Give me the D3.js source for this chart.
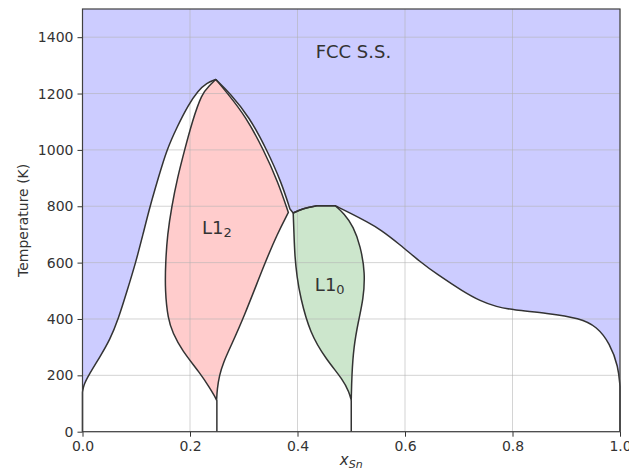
<!DOCTYPE html>
<html>
<head>
<meta charset="utf-8">
<script src="https://cdn.jsdelivr.net/npm/d3@7"></script>
<style>
  body { margin: 0; background: #fff; }
  text { font-family: "DejaVu Sans", sans-serif; fill: #333; }
</style>
</head>
<body>
<div id="chart"></div>
<script>
// phase boundaries, [x_Sn, T(K)]
var fccLeft = [[0,140],[0.002,165],[0.0108,199],[0.0326,266],[0.051,326],[0.0667,400],[0.083,500],
  [0.099,600],[0.1125,700],[0.1256,800],[0.141,900],[0.1566,1000],[0.176,1082],[0.197,1160],
  [0.215,1210],[0.231,1238],[0.248,1250]];
var fccRightUpper = [[0.248,1250],[0.274,1202],[0.31,1118],[0.343,1000],[0.37,885],[0.386,790]];
var fccRightLower = [[0.47,802],[0.5,774],[0.529,745],[0.554,718],[0.59,665],[0.628,603],[0.66,558],
  [0.7085,497],[0.74,464],[0.77,443],[0.8015,432],[0.864,421],[0.926,403],[0.957,373],[0.981,314],
  [0.997,231],[1.0,160]];

var l12Left = [[0.248,1250],[0.236,1228],[0.222,1200],[0.204,1100],[0.19,1000],[0.1765,900],[0.166,800],
  [0.158,700],[0.1545,600],[0.1535,500],[0.159,400],[0.168,350],[0.1845,290],[0.219,207],[0.237,155],
  [0.2465,124],[0.2495,112]];
var l12Right = [[0.2495,112],[0.2505,150],[0.2546,200],[0.262,245],[0.275,300],[0.299,400],[0.3395,600],
  [0.362,700],[0.383,778]];
var l12Upper = [[0.383,778],[0.364,885],[0.337,1000],[0.304,1118],[0.268,1205],[0.248,1250]];

var l10Top = [[0.392,776],[0.41,792],[0.436,802]];
var l10Flat = [[0.436,802],[0.47,802]];
var l10Right = [[0.47,802],[0.487,774],[0.504,728],[0.517,660],[0.526,563],[0.5225,470],[0.513,390],
  [0.5045,300],[0.501,200],[0.5,112]];
var l10Left = [[0.5,112],[0.496,140],[0.485,184],[0.454,255],[0.423,350],[0.405,480],[0.399,550],
  [0.395,622],[0.3935,700],[0.392,776]];

var xTicks = [0, 0.2, 0.4, 0.6, 0.8, 1.0];
var yTicks = [0, 200, 400, 600, 800, 1000, 1200, 1400];

function draw(){
  var width = 629, height = 476;
  var mLeft = 82.5, mRight = 620, mTop = 9, mBottom = 431.7;

  var svg = d3.select("#chart").append("svg")
    .attr("width", width)
    .attr("height", height);

  var x = d3.scaleLinear().domain([0, 1]).range([mLeft, mRight]);
  var y = d3.scaleLinear().domain([0, 1500]).range([mBottom, mTop]);

  // b-spline smooths out the reading noise, still ends on the end points
  var curve = d3.line().x(function(d){ return x(d[0]) }).y(function(d){ return y(d[1]) })
    .curve(d3.curveBasis);
  var straight = d3.line().x(function(d){ return x(d[0]) }).y(function(d){ return y(d[1]) });

  // glue pieces into one path so the corners stay sharp
  function joined(parts){
    return parts.map(function(p, i){ return i ? p.replace(/^M/, "L") : p }).join("");
  }

  var outerPath = joined([
    straight([[0,0],[0,140]]),
    curve(fccLeft),
    curve(fccRightUpper),
    straight([[0.386,790],[0.392,776]]),
    curve(l10Top),
    straight(l10Flat),
    curve(fccRightLower),
    straight([[1,160],[1,0]])
  ]);
  var l12Path = joined([curve(l12Left), curve(l12Right), curve(l12Upper)]) + "Z";
  var l10Path = joined([curve(l10Top), straight(l10Flat), curve(l10Right), curve(l10Left)]) + "Z";

  var plot = svg.append("g").attr("class", "plot");

  // FCC solid solution everywhere, two-phase region (white) below the outer boundary
  plot.append("rect")
    .attr("x", mLeft).attr("y", mTop)
    .attr("width", mRight - mLeft).attr("height", mBottom - mTop)
    .attr("fill", "#ccccff");
  plot.append("path").attr("d", outerPath + "Z").attr("fill", "#fff");
  plot.append("path").attr("d", l12Path).attr("fill", "#ffcccc");
  plot.append("path").attr("d", l10Path).attr("fill", "#cce6cc");

  // grid
  var grid = svg.append("g").attr("class", "grid")
    .attr("stroke", "#b0b0b0").attr("stroke-opacity", 0.55).attr("stroke-width", 1);
  grid.selectAll("line.gx").data(xTicks).enter().append("line")
    .attr("x1", function(d){ return x(d) }).attr("x2", function(d){ return x(d) })
    .attr("y1", mTop).attr("y2", mBottom);
  grid.selectAll("line.gy").data(yTicks).enter().append("line")
    .attr("y1", function(d){ return y(d) }).attr("y2", function(d){ return y(d) })
    .attr("x1", mLeft).attr("x2", mRight);

  // boundary lines
  var lines = svg.append("g").attr("fill", "none").attr("stroke", "#333").attr("stroke-width", 1.5)
    .attr("stroke-linejoin", "round");
  lines.append("path").attr("d", outerPath);
  lines.append("path").attr("d", l12Path);
  lines.append("path").attr("d", l10Path);
  lines.append("path").attr("d", straight([[0.25,0],[0.25,112]]));
  lines.append("path").attr("d", straight([[0.5,0],[0.5,112]]));

  // axes
  var xAxis = svg.append("g")
    .attr("transform", "translate(0," + mBottom + ")")
    .call(d3.axisBottom(x).tickValues(xTicks).tickFormat(d3.format(".1f")).tickSize(5).tickPadding(4));
  var yAxis = svg.append("g")
    .attr("transform", "translate(" + mLeft + ",0)")
    .call(d3.axisLeft(y).tickValues(yTicks).tickFormat(d3.format("d")).tickSize(5).tickPadding(4));
  [xAxis, yAxis].forEach(function(a){
    a.select(".domain").remove();
    a.selectAll(".tick line").attr("stroke", "#333").attr("stroke-width", 1);
    a.selectAll(".tick text").attr("font-size", 14).attr("fill", "#333")
      .attr("font-family", "DejaVu Sans, sans-serif");
  });

  svg.append("rect")
    .attr("x", mLeft).attr("y", mTop)
    .attr("width", mRight - mLeft).attr("height", mBottom - mTop)
    .attr("fill", "none").attr("stroke", "#404040").attr("stroke-width", 1.2);

  // axis titles
  svg.append("text")
    .attr("transform", "translate(27.5," + ((mTop + mBottom) / 2) + ") rotate(-90)")
    .attr("text-anchor", "middle")
    .attr("font-size", 14)
    .text("Temperature (K)");

  var xl = svg.append("text")
    .attr("x", (mLeft + mRight) / 2).attr("y", 465)
    .attr("text-anchor", "middle")
    .attr("font-size", 15)
    .attr("font-style", "italic");
  xl.append("tspan").text("x");
  xl.append("tspan").attr("font-size", 11).attr("dy", 3).text("Sn");

  // phase labels
  svg.append("text")
    .attr("x", x(0.504)).attr("y", y(1327))
    .attr("text-anchor", "middle").attr("font-size", 18)
    .text("FCC S.S.");

  var t12 = svg.append("text")
    .attr("x", x(0.25)).attr("y", y(702))
    .attr("text-anchor", "middle").attr("font-size", 18);
  t12.append("tspan").text("L1");
  t12.append("tspan").attr("font-size", 13).attr("dy", 3).text("2");

  var t10 = svg.append("text")
    .attr("x", x(0.46)).attr("y", y(501))
    .attr("text-anchor", "middle").attr("font-size", 18);
  t10.append("tspan").text("L1");
  t10.append("tspan").attr("font-size", 13).attr("dy", 3).text("0");
}
draw();
</script>
</body>
</html>
